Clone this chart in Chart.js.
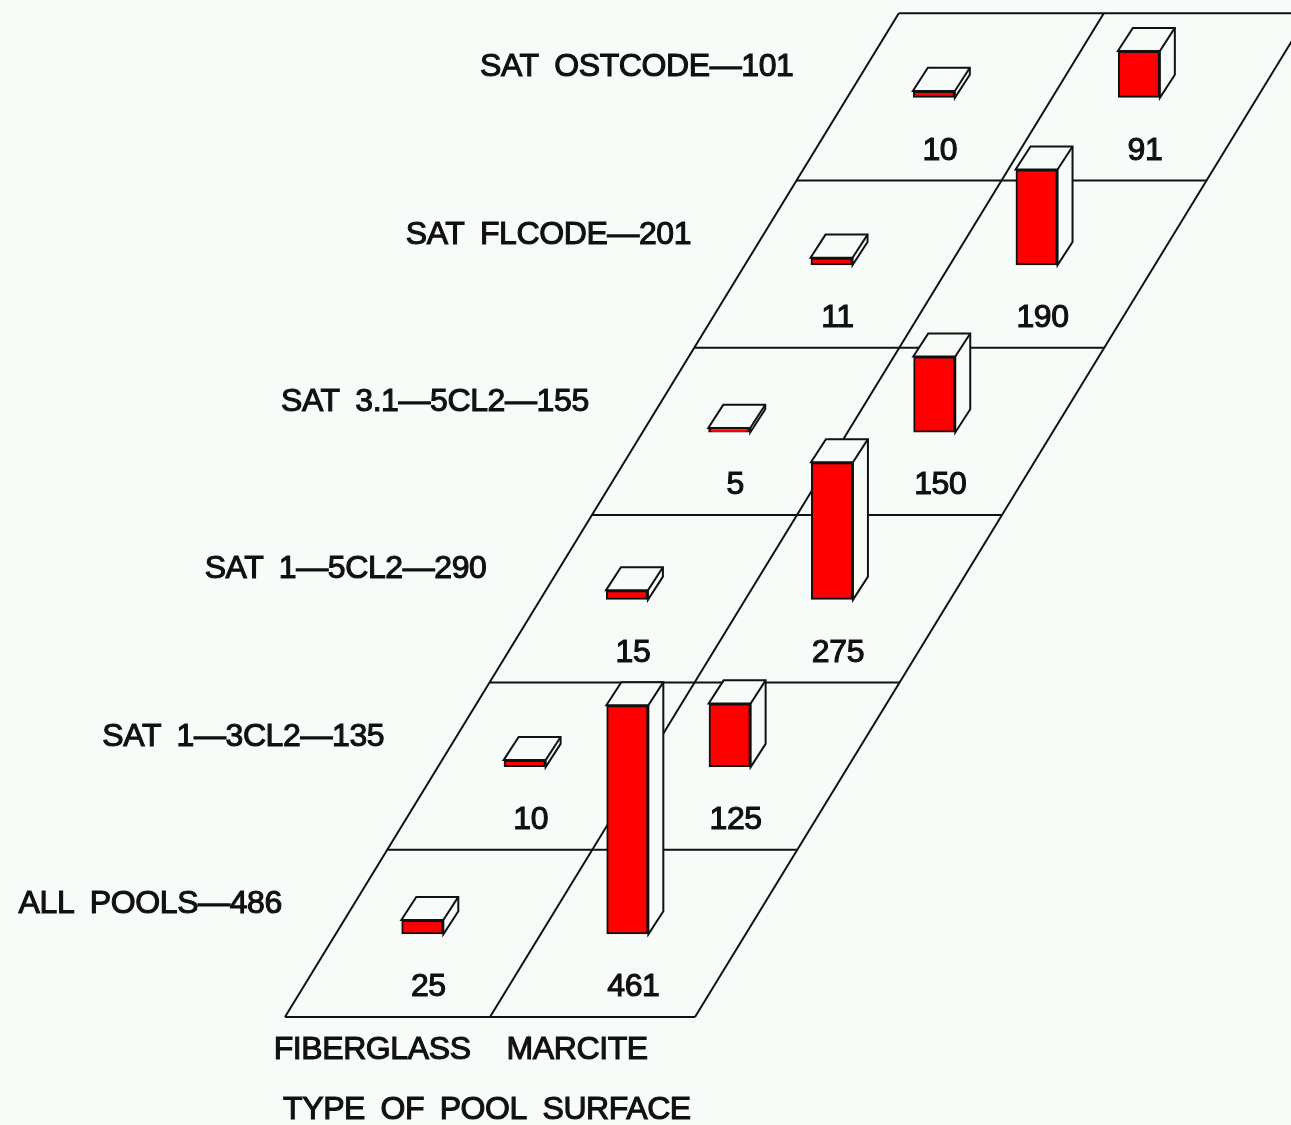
<!DOCTYPE html>
<html>
<head>
<meta charset="utf-8">
<title>Type of pool surface</title>
<script src="https://cdn.jsdelivr.net/npm/chart.js@4"></script>
<style>
  html, body { margin: 0; padding: 0; background: #f8fcf9; }
  canvas { display: block; filter: blur(0.4px); }
</style>
</head>
<body>
<canvas id="mychart" width="1291" height="1125"></canvas>
<script>
// rows run from the front of the floor to the back
const rowLabels = ['ALL POOLS\u2014486', 'SAT 1\u20143CL2\u2014135', 'SAT 1\u20145CL2\u2014290',
                   'SAT 3.1\u20145CL2\u2014155', 'SAT FLCODE\u2014201', 'SAT OSTCODE\u2014101'];
const surfaces = ['FIBERGLASS', 'MARCITE'];
const fiberglass = [25, 10, 15, 5, 11, 10];
const marcite = [461, 125, 275, 150, 190, 91];
const axisTitle = 'TYPE OF POOL SURFACE';

// floor geometry, x in columns and y in value units
const rowDepth = 339.7;
const skew = 0.499;
const barOffset = 0.67;
const blockDepthX = 0.073;
const blockDepthY = 47;
const inflate = 1;

const bg = '#f8fcf9';
const ink = '#111';
const textFont = '32px "Liberation Sans"';

const floorX = (col, row) => col + row * skew;

const floorLines = [];
for (let r = 0; r <= rowLabels.length; r++) {
    floorLines.push([{x: floorX(0, r), y: r * rowDepth}, {x: floorX(surfaces.length, r), y: r * rowDepth}]);
}
for (let c = 0; c <= surfaces.length; c++) {
    floorLines.push([{x: floorX(c, 0), y: 0}, {x: floorX(c, rowLabels.length), y: rowLabels.length * rowDepth}]);
}

// back rows first so the front blocks cover them
const blocks = [];
for (let r = rowLabels.length - 1; r >= 0; r--) {
    [fiberglass, marcite].forEach((series, c) => {
        const base = (r + 0.5) * rowDepth;
        blocks.push({x: floorX(c, r) + barOffset, y: [base, base + series[r]], value: series[r]});
    });
}

class Block3D extends Chart.BarController {
    draw() {
        const ctx = this.chart.ctx;
        const {x: xs, y: ys} = this.chart.scales;
        const dx = xs.getPixelForValue(blockDepthX) - xs.getPixelForValue(0);
        const dy = ys.getPixelForValue(blockDepthY) - ys.getPixelForValue(0);
        ctx.save();
        this.getMeta().data.forEach(bar => {
            const left = bar.x - bar.width / 2 - inflate;
            const right = bar.x + bar.width / 2 + inflate;
            const top = bar.y - inflate;
            const bottom = bar.base + inflate;
            ctx.beginPath();
            ctx.moveTo(left, top);
            ctx.lineTo(left + dx, top + dy);
            ctx.lineTo(right + dx, top + dy);
            ctx.lineTo(right + dx, bottom + dy);
            ctx.lineTo(right, bottom);
            ctx.lineTo(right, top);
            ctx.closePath();
            ctx.fillStyle = bg;
            ctx.fill();
            ctx.strokeStyle = ink;
            ctx.lineWidth = 2;
            ctx.stroke();
            ctx.beginPath();
            ctx.moveTo(right, top);
            ctx.lineTo(right + dx, top + dy);
            ctx.stroke();
            bar.draw(ctx, this.chart.chartArea);
        });
        ctx.restore();
    }
}
Block3D.id = 'block3d';
Block3D.defaults = Chart.BarController.defaults;
Block3D.overrides = Chart.BarController.overrides;
Chart.register(Block3D);

const drawText = (ctx, text, x, y, align) => {
    ctx.textAlign = align;
    ctx.fillText(text, x, y);
    ctx.strokeText(text, x, y);
};

const textPlugin = {
    id: 'floorText',
    afterDraw(chart) {
        const ctx = chart.ctx;
        const {x: xs, y: ys} = chart.scales;
        ctx.save();
        ctx.font = textFont;
        ctx.fillStyle = ink;
        ctx.strokeStyle = ink;
        ctx.lineWidth = 1.1;
        ctx.textBaseline = 'middle';
        ctx.letterSpacing = '-0.4px';
        ctx.wordSpacing = '7px';

        rowLabels.forEach((label, r) => {
            drawText(ctx, label, xs.getPixelForValue(floorX(-0.015, r)), ys.getPixelForValue((r + 0.6875) * rowDepth) + 2, 'right');
        });

        const meta = chart.getDatasetMeta(chart.data.datasets.length - 1);
        meta.data.forEach((bar, i) => {
            drawText(ctx, String(blocks[i].value), bar.x + 6, bar.base + 54, 'center');
        });

        surfaces.forEach((name, c) => {
            drawText(ctx, name, xs.getPixelForValue(c + 0.425), ys.getPixelForValue(0) + 33, 'center');
        });
        drawText(ctx, axisTitle, xs.getPixelForValue(0.985), ys.getPixelForValue(0) + 93, 'center');
        ctx.restore();
    }
};

const ctx = document.getElementById('mychart').getContext('2d');
const datasets = floorLines.map(points => ({
    type: 'line',
    data: points,
    borderColor: ink,
    borderWidth: 2,
    pointRadius: 0,
    tension: 0,
    order: 2
}));
datasets.push({
    type: 'block3d',
    data: blocks,
    backgroundColor: '#ff0000',
    borderColor: ink,
    borderWidth: 2,
    borderSkipped: false,
    inflateAmount: inflate,
    barThickness: 40,
    order: 1
});

const mychart = new Chart(ctx, {
    data: {datasets},
    plugins: [textPlugin],
    options: {
        responsive: false,
        animation: false,
        layout: {padding: 0},
        plugins: {legend: {display: false}, tooltip: {enabled: false}},
        scales: {
            x: {type: 'linear', display: false, offset: false, min: -1.39, max: 4.907},
            y: {type: 'linear', display: false, min: -219.3, max: 2065}
        }
    }
});
</script>
</body>
</html>
